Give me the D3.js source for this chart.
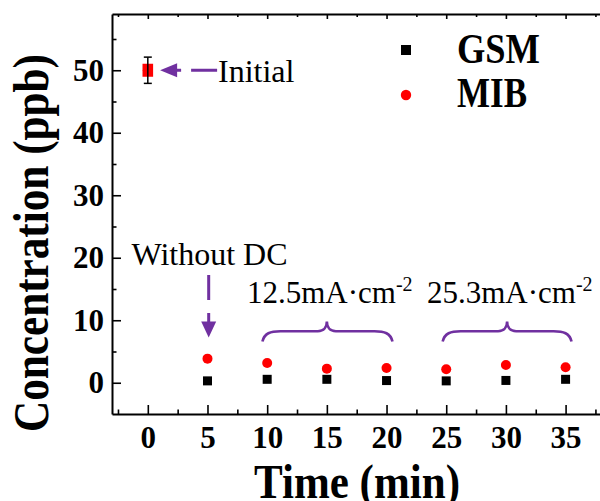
<!DOCTYPE html>
<html><head><meta charset="utf-8">
<script src="https://cdn.jsdelivr.net/npm/d3@7"></script>
<style>html,body{margin:0;padding:0;background:#fff;}svg{display:block;}</style>
</head><body>
<svg id="chart" width="600" height="501"></svg>
<script>
// ---- data ----
const timeMin = [0, 5, 10, 15, 20, 25, 30, 35];
const gsm = [50, 0.3, 0.55, 0.55, 0.35, 0.3, 0.37, 0.55];
const mib = [50, 3.86, 3.16, 2.26, 2.37, 2.15, 2.85, 2.47];
const initialTime = [0];
const initialValue = [50];
const initialError = [2.1];
const xTicks = [0, 5, 10, 15, 20, 25, 30, 35];
const xMinorTicks = [-2.5, 2.5, 7.5, 12.5, 17.5, 22.5, 27.5, 32.5, 37.5];
const yTicks = [0, 10, 20, 30, 40, 50];
const yMinorTicks = [5, 15, 25, 35, 45, 55];
const seriesNames = ["GSM", "MIB"];
const braceGroups = [[9.6, 20.5, 15], [24.7, 35.5, 30.1]];
const braceLabels = ["12.5mA\u00B7cm", "25.3mA\u00B7cm"];

const FONT = "'Liberation Serif','Times New Roman',serif";
const PURPLE = "#7030A0";
const svg = d3.select("#chart");

const x = d3.scaleLinear().domain([-3, 38]).range([112, 601.4]);
const y = d3.scaleLinear().domain([-5, 59]).range([414, 14]);

// ---- axes ----
function styleAxis(g) {
  g.selectAll("path.domain").attr("stroke", "#000").attr("stroke-width", 2);
  g.selectAll(".tick line").attr("stroke", "#000").attr("stroke-width", 1.6);
}
const gxB = svg.append("g").attr("transform", `translate(0,${y(-5)})`)
  .call(d3.axisBottom(x).tickValues(xTicks).tickSizeInner(-9).tickSizeOuter(0).tickPadding(0));
styleAxis(gxB);
gxB.selectAll(".tick text").attr("y", 34).attr("dy", 0)
  .attr("font-family", FONT).attr("font-weight", "bold").attr("font-size", 31).attr("fill", "#000");
const gxBm = svg.append("g").attr("transform", `translate(0,${y(-5)})`)
  .call(d3.axisBottom(x).tickValues(xMinorTicks).tickSizeInner(-4.5).tickSizeOuter(0).tickFormat(""));
styleAxis(gxBm); gxBm.select("path.domain").remove();

const gxT = svg.append("g").attr("transform", `translate(0,${y(59)})`)
  .call(d3.axisTop(x).tickValues(xTicks).tickSizeInner(-5).tickSizeOuter(0).tickFormat(""));
styleAxis(gxT);
const gxTm = svg.append("g").attr("transform", `translate(0,${y(59)})`)
  .call(d3.axisTop(x).tickValues(xMinorTicks).tickSizeInner(-3).tickSizeOuter(0).tickFormat(""));
styleAxis(gxTm); gxTm.select("path.domain").remove();

const gy = svg.append("g").attr("transform", `translate(${x(-3)},0)`)
  .call(d3.axisLeft(y).tickValues(yTicks).tickSizeInner(-9).tickSizeOuter(0).tickPadding(8));
styleAxis(gy);
gy.selectAll(".tick text").attr("x", -8).attr("dy", "0.33em")
  .attr("font-family", FONT).attr("font-weight", "bold").attr("font-size", 31).attr("fill", "#000");
const gym = svg.append("g").attr("transform", `translate(${x(-3)},0)`)
  .call(d3.axisLeft(y).tickValues(yMinorTicks).tickSizeInner(-4.5).tickSizeOuter(0).tickFormat(""));
styleAxis(gym); gym.select("path.domain").remove();

// axis titles
svg.append("text").attr("x", 357).attr("y", 498).attr("text-anchor", "middle")
  .attr("font-family", FONT).attr("font-weight", "bold").attr("font-size", 49)
  .attr("textLength", 206).attr("lengthAdjust", "spacingAndGlyphs").text("Time (min)");
svg.append("text").attr("transform", "translate(48,243) rotate(-90)").attr("text-anchor", "middle")
  .attr("font-family", FONT).attr("font-weight", "bold").attr("font-size", 50)
  .attr("textLength", 378).attr("lengthAdjust", "spacingAndGlyphs").text("Concentration (ppb)");

// ---- data points ----
const sq = 9;
svg.append("g").selectAll("rect").data(timeMin).join("rect")
  .attr("x", (d) => x(d) - sq / 2).attr("y", (d, i) => y(gsm[i]) - sq / 2)
  .attr("width", sq).attr("height", sq).attr("fill", "#000");
svg.append("g").selectAll("circle").data(timeMin).join("circle")
  .attr("cx", (d) => x(d)).attr("cy", (d, i) => y(mib[i])).attr("r", 5).attr("fill", "#ff0000");

// initial point with error bar
const ig = svg.append("g");
initialTime.forEach((t, i) => {
  const cx = x(t), cy = y(initialValue[i]);
  ig.append("rect").attr("x", cx - 5.3).attr("y", cy - 6.5).attr("width", 10.6).attr("height", 13).attr("fill", "#ff0000");
  const y1 = y(initialValue[i] + initialError[i]), y2 = y(initialValue[i] - initialError[i]);
  ig.append("line").attr("x1", cx).attr("x2", cx).attr("y1", y1).attr("y2", y2).attr("stroke", "#000").attr("stroke-width", 1.5);
  [y1, y2].forEach(yy => ig.append("line").attr("x1", cx - 4).attr("x2", cx + 4).attr("y1", yy).attr("y2", yy).attr("stroke", "#000").attr("stroke-width", 1.5));
});

// ---- legend ----
const lg = svg.append("g");
lg.append("rect").attr("x", 406 - 5).attr("y", 50 - 5).attr("width", 10).attr("height", 10).attr("fill", "#000");
lg.append("circle").attr("cx", 406).attr("cy", 95).attr("r", 5.2).attr("fill", "#ff0000");
lg.append("text").attr("x", 457).attr("y", 63).attr("font-family", FONT).attr("font-weight", "bold")
  .attr("font-size", 42).attr("textLength", 83).attr("lengthAdjust", "spacingAndGlyphs").text(seriesNames[0]);
lg.append("text").attr("x", 457).attr("y", 107).attr("font-family", FONT).attr("font-weight", "bold")
  .attr("font-size", 42).attr("textLength", 70).attr("lengthAdjust", "spacingAndGlyphs").text(seriesNames[1]);

// ---- annotations ----
const ag = svg.append("g");
// Initial arrow
const iy = y(initialValue[0]);
const tipX = x(0) + 12.3;
ag.append("path").attr("d", `M${tipX + 57},${iy} L${tipX + 14},${iy}`)
  .attr("stroke", PURPLE).attr("stroke-width", 3).attr("stroke-dasharray", "26,10").attr("fill", "none");
ag.append("path").attr("d", `M${tipX},${iy} L${tipX + 17},${iy - 7} L${tipX + 17},${iy + 7} Z`).attr("fill", PURPLE);
ag.append("text").attr("x", 218).attr("y", 81.5).attr("font-family", FONT).attr("font-size", 32).attr("fill", "#000").text("Initial");

// Without DC
ag.append("text").attr("x", 131.5).attr("y", 265).attr("font-family", FONT).attr("font-size", 32).attr("fill", "#000").text("Without DC");
const vx = x(5) + 1.2;
ag.append("path").attr("d", `M${vx},275 L${vx},325`)
  .attr("stroke", PURPLE).attr("stroke-width", 3).attr("stroke-dasharray", "25,13").attr("fill", "none");
ag.append("path").attr("d", `M${vx},337.5 L${vx - 7.5},321.5 L${vx + 7.5},321.5 Z`).attr("fill", PURPLE);

// braces
const yEnd = y(6.6), yFlat = y(8.25), yPeak = y(9.8);
braceGroups.forEach((b, i) => {
  const x1 = x(b[0]), x2 = x(b[1]), xm = x(b[2]);
  const d = `M${x1},${yEnd} C${x1 + 2},${yFlat + 2} ${x1 + 8},${yFlat} ${x1 + 18},${yFlat}
    L${xm - 9},${yFlat} C${xm - 3},${yFlat} ${xm},${yFlat - 4} ${xm},${yPeak}
    C${xm},${yFlat - 4} ${xm + 3},${yFlat} ${xm + 9},${yFlat}
    L${x2 - 18},${yFlat} C${x2 - 8},${yFlat} ${x2 - 2},${yFlat + 2} ${x2},${yEnd}`;
  ag.append("path").attr("d", d).attr("stroke", PURPLE).attr("stroke-width", 2.6).attr("fill", "none");
  const t = ag.append("text").attr("x", i === 0 ? 247 : 427).attr("y", 303.3)
    .attr("font-family", FONT).attr("font-size", 31).attr("fill", "#000");
  t.append("tspan").text(braceLabels[i]);
  t.append("tspan").attr("font-size", 20).attr("dy", -12).text("-2");
});
</script>
</body></html>
